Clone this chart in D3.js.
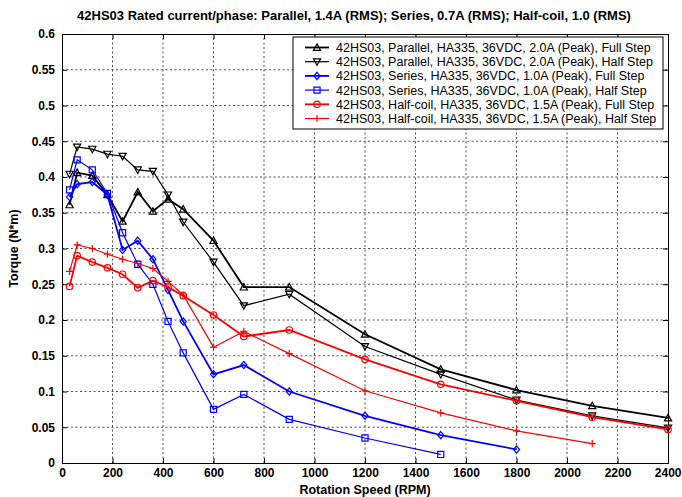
<!DOCTYPE html>
<html>
<head>
<meta charset="utf-8">
<script src="https://cdn.jsdelivr.net/npm/d3@7"></script>
<style>
body { margin: 0; background: #fff; }
svg { font-family: "Liberation Sans", Arial, sans-serif; }
</style>
</head>
<body>
<div id="chart"></div>
<script>

// Data
var rpmLong = [30, 60, 120, 180, 240, 300, 360, 420, 480, 600, 720, 900, 1200, 1500, 1800, 2100, 2400];
var rpmSeries = [30, 60, 120, 180, 240, 300, 360, 420, 480, 600, 720, 900, 1200, 1500, 1800];
var rpmSeriesHalf = [30, 60, 120, 180, 240, 300, 360, 420, 480, 600, 720, 900, 1200, 1500];
var rpmHalfcoilHalf = [30, 60, 120, 180, 240, 300, 360, 420, 480, 600, 720, 900, 1200, 1500, 1800, 2100];

var parallelFull = [0.361, 0.406, 0.402, 0.375, 0.338, 0.379, 0.352, 0.369, 0.355, 0.311, 0.246, 0.246, 0.180, 0.131, 0.102, 0.080, 0.063];
var parallelHalf = [0.404, 0.442, 0.439, 0.432, 0.429, 0.410, 0.408, 0.375, 0.337, 0.281, 0.220, 0.236, 0.163, 0.124, 0.088, 0.066, 0.049];
var seriesFull = [0.372, 0.390, 0.393, 0.375, 0.298, 0.311, 0.285, 0.242, 0.198, 0.124, 0.137, 0.100, 0.066, 0.039, 0.019];
var seriesHalf = [0.382, 0.424, 0.410, 0.377, 0.322, 0.278, 0.250, 0.198, 0.154, 0.075, 0.096, 0.061, 0.035, 0.012];
var halfcoilFull = [0.247, 0.290, 0.281, 0.273, 0.264, 0.245, 0.255, 0.246, 0.234, 0.207, 0.177, 0.186, 0.145, 0.110, 0.087, 0.064, 0.047];
var halfcoilHalf = [0.268, 0.305, 0.300, 0.292, 0.285, 0.279, 0.272, 0.254, 0.235, 0.162, 0.184, 0.153, 0.101, 0.070, 0.045, 0.027];

var xTicks = d3.range(0, 2401, 200);
var yTicks = d3.range(0, 13).map(function(i) { return i * 0.05; });

var seriesList = [
  { name: '42HS03, Parallel, HA335, 36VDC, 2.0A (Peak), Full Step', x: rpmLong, y: parallelFull, color: '#000', marker: 'up', width: 1.8 },
  { name: '42HS03, Parallel, HA335, 36VDC, 2.0A (Peak), Half Step', x: rpmLong, y: parallelHalf, color: '#000', marker: 'down', width: 1.2 },
  { name: '42HS03, Series, HA335, 36VDC, 1.0A (Peak), Full Step', x: rpmSeries, y: seriesFull, color: '#0000ff', marker: 'diamond', width: 1.8 },
  { name: '42HS03, Series, HA335, 36VDC, 1.0A (Peak), Half Step', x: rpmSeriesHalf, y: seriesHalf, color: '#0000ff', marker: 'square', width: 1.2 },
  { name: '42HS03, Half-coil, HA335, 36VDC, 1.5A (Peak), Full Step', x: rpmLong, y: halfcoilFull, color: '#ff0000', marker: 'circle', width: 1.8 },
  { name: '42HS03, Half-coil, HA335, 36VDC, 1.5A (Peak), Half Step', x: rpmHalfcoilHalf, y: halfcoilHalf, color: '#ff0000', marker: 'plus', width: 1.2 }
];

var W = 682, H = 497;
var margin = { left: 62, right: 14, top: 34, bottom: 34 };

var svg = d3.select('#chart').append('svg')
  .attr('width', W)
  .attr('height', H);

svg.append('rect').attr('width', W).attr('height', H).attr('fill', '#fff');

var x = d3.scaleLinear().domain([0, 2400]).range([margin.left, W - margin.right]);
var y = d3.scaleLinear().domain([0, 0.6]).range([H - margin.bottom, margin.top]);

// grid
var grid = svg.append('g');
grid.selectAll('.gx')
  .data(xTicks.slice(1, -1))
  .enter().append('line')
  .attr('x1', function(d) { return x(d); })
  .attr('x2', function(d) { return x(d); })
  .attr('y1', y(0)).attr('y2', y(0.6))
  .attr('stroke', '#222').attr('stroke-width', 0.8)
  .attr('stroke-dasharray', '2,2.5');
grid.selectAll('.gy')
  .data(yTicks.slice(1, -1))
  .enter().append('line')
  .attr('y1', function(d) { return y(d); })
  .attr('y2', function(d) { return y(d); })
  .attr('x1', x(0)).attr('x2', x(2400))
  .attr('stroke', '#222').attr('stroke-width', 0.8)
  .attr('stroke-dasharray', '2,2.5');

// axes with inward ticks
var fmtY = function(d) { return d === 0 ? '0' : d3.format('.2~f')(d); };

var axB = svg.append('g').attr('transform', 'translate(0,' + y(0) + ')')
  .call(d3.axisBottom(x).tickValues(xTicks).tickSize(-5).tickPadding(5).tickFormat(d3.format('d')));
var axT = svg.append('g').attr('transform', 'translate(0,' + y(0.6) + ')')
  .call(d3.axisTop(x).tickValues(xTicks).tickSize(-5).tickFormat(''));
var axL = svg.append('g').attr('transform', 'translate(' + x(0) + ',0)')
  .call(d3.axisLeft(y).tickValues(yTicks).tickSize(-5).tickPadding(7).tickFormat(fmtY));
var axR = svg.append('g').attr('transform', 'translate(' + x(2400) + ',0)')
  .call(d3.axisRight(y).tickValues(yTicks).tickSize(-5).tickFormat(''));

[axB, axT, axL, axR].forEach(function(a) {
  a.select('.domain').attr('stroke', '#000').attr('stroke-width', 1);
  a.selectAll('.tick line').attr('stroke', '#000');
  a.selectAll('text')
    .attr('fill', '#000')
    .style('font-size', '12px')
    .style('font-weight', 'bold')
    .style('font-family', '"Liberation Sans", Arial, sans-serif');
});
// keep the last x label inside the window
axB.selectAll('.tick text').filter(function(d) { return d === 2400; }).attr('text-anchor', 'end').attr('dx', '13');

// marker shapes
function markerPath(type) {
  var r = 3.6;
  if (type === 'up') return 'M0,' + (-r) + 'L' + r + ',' + (r * 0.8) + 'L' + (-r) + ',' + (r * 0.8) + 'Z';
  if (type === 'down') return 'M0,' + r + 'L' + r + ',' + (-r * 0.8) + 'L' + (-r) + ',' + (-r * 0.8) + 'Z';
  if (type === 'diamond') return 'M0,' + (-r) + 'L' + (r * 0.85) + ',0L0,' + r + 'L' + (-r * 0.85) + ',0Z';
  if (type === 'square') { var s = r * 0.85; return 'M' + (-s) + ',' + (-s) + 'H' + s + 'V' + s + 'H' + (-s) + 'Z'; }
  if (type === 'circle') { var c = r * 0.9; return 'M' + c + ',0A' + c + ',' + c + ' 0 1,1 ' + (-c) + ',0A' + c + ',' + c + ' 0 1,1 ' + c + ',0Z'; }
  if (type === 'plus') return 'M' + (-r) + ',0H' + r + 'M0,' + (-r) + 'V' + r;
}

var line = d3.line();

var plot = svg.append('g');
seriesList.forEach(function(s) {
  var pts = s.x.map(function(v, i) { return [x(v), y(s.y[i])]; });
  var g = plot.append('g');
  g.append('path')
    .attr('d', line(pts))
    .attr('fill', 'none')
    .attr('stroke', s.color)
    .attr('stroke-width', s.width);
  g.selectAll('path.m')
    .data(pts)
    .enter().append('path')
    .attr('class', 'm')
    .attr('transform', function(p) { return 'translate(' + p[0] + ',' + p[1] + ')'; })
    .attr('d', markerPath(s.marker))
    .attr('fill', 'none')
    .attr('stroke', s.color)
    .attr('stroke-width', 1.2);
});

// legend
var lg = svg.append('g').attr('transform', 'translate(293,37)');
lg.append('rect')
  .attr('width', 370).attr('height', 92)
  .attr('fill', '#fff').attr('stroke', '#000').attr('stroke-width', 1);
seriesList.forEach(function(s, i) {
  var yy = 10.5 + i * 14.2;
  lg.append('line')
    .attr('x1', 12).attr('x2', 36).attr('y1', yy).attr('y2', yy)
    .attr('stroke', s.color).attr('stroke-width', s.width);
  lg.append('path')
    .attr('transform', 'translate(24,' + yy + ')')
    .attr('d', markerPath(s.marker))
    .attr('fill', 'none').attr('stroke', s.color).attr('stroke-width', 1.2);
  lg.append('text')
    .attr('x', 43).attr('y', yy + 4.5)
    .style('font-size', '12.5px')
    .attr('fill', '#000')
    .text(s.name);
});

// title and labels
svg.append('text')
  .attr('x', 354).attr('y', 20)
  .attr('text-anchor', 'middle')
  .style('font-size', '13px').style('font-weight', 'bold')
  .text('42HS03 Rated current/phase: Parallel, 1.4A (RMS); Series, 0.7A (RMS); Half-coil, 1.0 (RMS)');

svg.append('text')
  .attr('x', (x(0) + x(2400)) / 2).attr('y', 494)
  .attr('text-anchor', 'middle')
  .style('font-size', '12.5px').style('font-weight', 'bold')
  .text('Rotation Speed (RPM)');

svg.append('text')
  .attr('transform', 'translate(18,' + ((y(0) + y(0.6)) / 2) + ') rotate(-90)')
  .attr('text-anchor', 'middle')
  .style('font-size', '12.5px').style('font-weight', 'bold')
  .text('Torque (N*m)');

</script>
</body>
</html>
